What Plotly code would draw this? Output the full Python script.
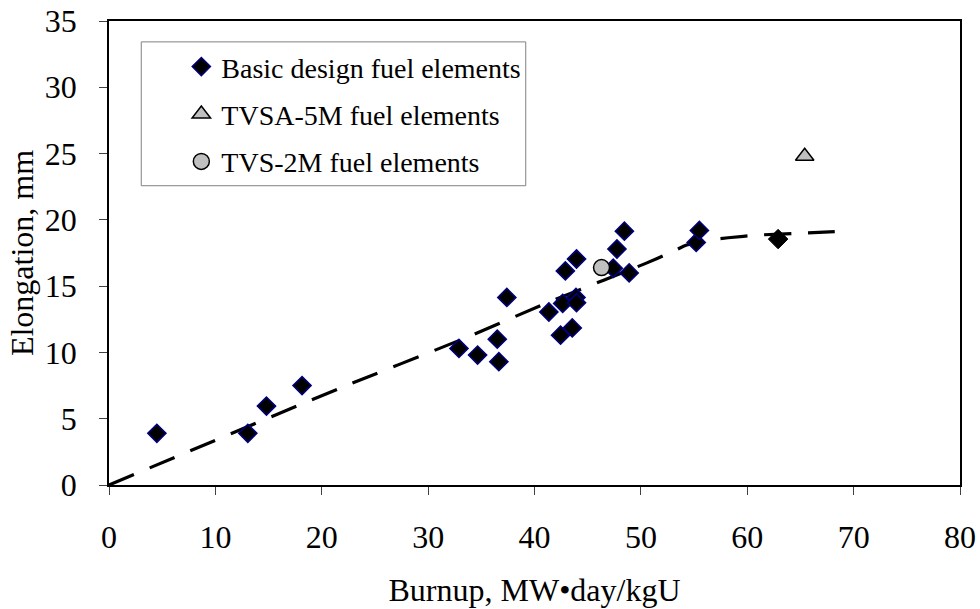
import plotly.graph_objects as go

# Basic design fuel elements
basic_x = [4.5, 13.05, 14.8, 18.15, 32.9, 34.65, 36.5, 36.65, 37.4, 41.35, 42.45, 43.55,
           42.65, 43.9, 43.95, 42.9, 43.95, 47.4, 48.9, 47.75, 48.45, 55.2, 55.5]
basic_y = [3.9, 3.9, 5.95, 7.5, 10.3, 9.8, 11.0, 9.3, 14.15, 13.05, 11.3, 11.85,
           13.7, 14.15, 13.75, 16.15, 17.05, 16.35, 16.0, 17.8, 19.15, 18.3, 19.2]
# extra point drawn without the navy border
extra_x = [62.9]
extra_y = [18.55]
# TVSA-5M fuel elements
tvsa_x = [65.4]
tvsa_y = [24.8]
# TVS-2M fuel elements
tvs_x = [46.3]
tvs_y = [16.4]
# dashed trend line
trend_x = [0, 21.7, 33.4, 41.05, 46.5, 50.4, 52.7, 54.3, 56.65, 58.2, 61.0, 65.1, 69.2]
trend_y = [0, 7.3, 11.06, 13.7, 15.45, 16.7, 17.5, 18.1, 18.5, 18.65, 18.85, 19.0, 19.15]

x_ticks = [0, 10, 20, 30, 40, 50, 60, 70, 80]
y_ticks = [0, 5, 10, 15, 20, 25, 30, 35]

FONT = "Liberation Serif"
FS = 32

fig = go.Figure()
fig.add_trace(go.Scatter(x=trend_x, y=trend_y, mode="lines", showlegend=False,
                         line=dict(color="black", width=3.2, dash="27px,17px", shape="spline", smoothing=0.5),
                         hoverinfo="skip"))
fig.add_trace(go.Scatter(x=basic_x, y=basic_y, mode="markers", name="Basic design fuel elements",
                         legendgroup="a",
                         marker=dict(symbol="diamond", size=14, color="black",
                                     line=dict(color="#000080", width=1.5))))
fig.add_trace(go.Scatter(x=extra_x, y=extra_y, mode="markers", showlegend=False,
                         marker=dict(symbol="diamond", size=15, color="black",
                                     line=dict(color="black", width=1))))
fig.add_trace(go.Scatter(x=tvsa_x, y=tvsa_y, mode="markers", name="TVSA-5M fuel elements",
                         legendgroup="b",
                         marker=dict(symbol="triangle-up", size=16, color="#C0C0C0",
                                     line=dict(color="black", width=1.5))))
fig.add_trace(go.Scatter(x=tvs_x, y=tvs_y, mode="markers", name="TVS-2M fuel elements",
                         legendgroup="c",
                         marker=dict(symbol="circle", size=16, color="#C0C0C0",
                                     line=dict(color="black", width=1.5))))

fig.add_shape(type="rect", xref="paper", yref="paper", x0=0.0379, x1=0.4897, y0=0.645, y1=0.955,
              line=dict(color="#808080", width=1), fillcolor="white", layer="below")

fig.update_layout(
    width=980, height=609,
    margin=dict(l=109, r=20, t=21, b=124),
    paper_bgcolor="white", plot_bgcolor="white",
    font=dict(family=FONT, size=FS, color="black"),
    showlegend=True,
    legend=dict(x=0.085, y=0.955, xanchor="left", yanchor="top",
                bgcolor="rgba(0,0,0,0)", borderwidth=0,
                traceorder="grouped", tracegroupgap=8,
                font=dict(family=FONT, size=28, color="black")),
    xaxis=dict(range=[0, 80], tickvals=x_ticks, ticks="outside", ticklen=8, tickcolor="#404040",
               ticklabelstandoff=15, automargin=False,
               showline=True, linecolor="black", linewidth=2, mirror=True, showgrid=False, zeroline=False,
               tickfont=dict(size=FS), title=dict(text="Burnup, MW•day/kgU", font=dict(size=FS), standoff=24)),
    yaxis=dict(range=[0, 35], tickvals=y_ticks, ticks="outside", ticklen=8, tickcolor="#404040",
               ticklabelstandoff=16, automargin=False,
               showline=True, linecolor="black", linewidth=1.5, mirror=True, showgrid=False, zeroline=False,
               tickfont=dict(size=FS), title=dict(text="Elongation, mm", font=dict(size=FS), standoff=2)),
)

fig.write_html("out.html")
